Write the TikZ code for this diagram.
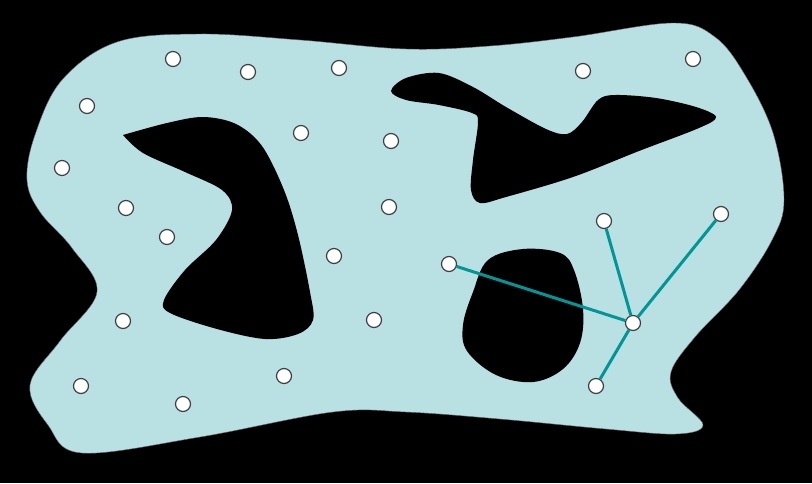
\documentclass[tikz,border=0pt]{standalone}
\usepackage{tikz}
\definecolor{shoal}{RGB}{185,224,227}
\definecolor{linkteal}{RGB}{0,150,150}

\begin{document}
\begin{tikzpicture}[x=1pt,y=-1pt,
 pt/.style={circle,draw=black!75,line width=1.2pt,fill=white,minimum size=15pt,inner sep=0pt},
 link/.style={draw=linkteal,line width=3pt},
 hole/.style={fill=black}]
\fill[black] (0,0) rectangle (812,483);
\useasboundingbox (0,0) rectangle (812,483);
% free region
\fill[shoal,draw=black!60,line width=0.4pt] plot[smooth cycle,tension=0.6] coordinates {
 (200,34) (300,40) (406,49) (490,46) (573,37) (673,23) (715,37) (745,75) (773,133) (784,200)
 (772,240) (739,290) (695,337) (671,372) (678,398) (703,425) (676,434) (606,429) (500,419)
 (406,412) (333,412) (200,437) (82,453) (48,425) (30,385) (60,341) (97,292) (72,248)
 (40,212) (27,180) (35,135) (62,80) (117,42)};
% obstacles (the left one has a sharp tip)
\fill[hole] plot[smooth,tension=0.55] coordinates {
 (123,135) (167,123) (203,117) (236,124) (262,146) (284,190) (298,235) (310,292)
 (313,320) (298,334) (265,339) (217,329) (170,313) (164,300) (185,270) (216,240) (232,210)
 (222,190) (185,172) (143,153) (123,135)} -- cycle;
\fill[hole] plot[smooth cycle,tension=0.55] coordinates {
 (391,91) (406,78) (439,73) (473,87) (506,107) (546,129) (567,134) (582,122) (598,100)
 (615,95) (656,98) (696,107) (716,117) (699,128) (639,151) (573,177) (506,197) (480,203)
 (471,190) (473,160) (478,122) (472,113) (439,105) (406,100)};
\fill[hole] plot[smooth cycle,tension=0.6] coordinates {
 (523,249) (560,253) (574,270) (583,309) (580,343) (563,369) (533,382) (496,375) (467,351)
 (463,325) (473,292) (488,260)};
% sample points
\foreach \x/\y [count=\i] in {173/59,248/72,339/68,87/106,301/133,391/141,62/168,126/208,
 167/237,389/207,334/256,123/321,374/320,81/386,183/404,284/376,583/71,693/59}
  \node[pt] (p\i) at (\x,\y) {};
\node[pt] (n1) at (449,264) {};
\node[pt] (n2) at (604,221) {};
\node[pt] (n3) at (721,214) {};
\node[pt] (n4) at (596,386) {};
\node[pt] (hub) at (633,323) {};
\foreach \n in {n1,n2,n3,n4}
  \draw[link] (hub) -- (\n);
\end{tikzpicture}
\end{document}
